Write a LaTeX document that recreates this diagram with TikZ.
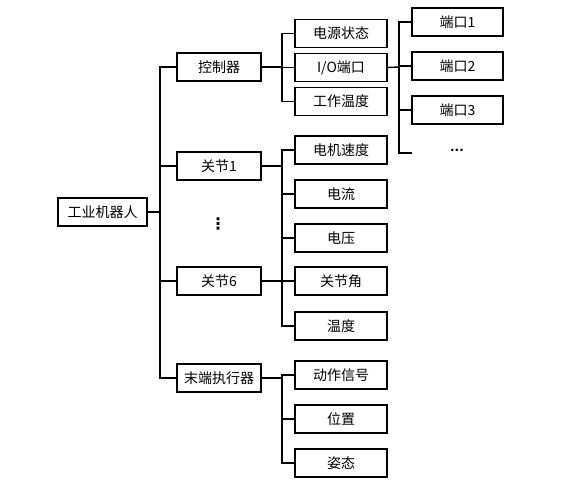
\documentclass[tikz,border=0pt]{standalone}
\usepackage{fontspec}
\setmainfont{Noto Sans CJK SC}
\newfontfamily\symfont{DejaVu Sans}
\usepackage{tikz}

\begin{document}
\begin{tikzpicture}[x=1pt, y=-1pt,
	box/.style={draw, line width=1.3pt, minimum height=28pt, inner sep=0pt, font=\fontsize{14}{16}\selectfont},
	lvlone/.style={box, minimum width=84pt},
	lvltwo/.style={box, minimum width=92pt},
	port/.style={box, minimum width=91pt},
	wire/.style={line width=1.4pt}]
				\useasboundingbox (0,0) rectangle (572,494);
				% root and first level
				\node[box, minimum width=89pt] (robot) at (102.5,212) {工业机器人};
				\node[lvlone] (ctrl) at (219,67) {控制器};
				\node[lvlone] (jone) at (219,166) {关节1};
				\node[lvlone] (jsix) at (219,281) {关节6};
				\node[lvlone] (eff) at (219,378) {末端执行器};
				\node[font=\symfont\bfseries\fontsize{16}{18}\selectfont] (vdots) at (218,224) {⋮};
				% second level
				\node[lvltwo] (power) at (341,33.5) {电源状态};
				\node[lvltwo] (io) at (341,67.5) {I/O端口};
				\node[lvltwo] (ctemp) at (341,101.5) {工作温度};
				\node[lvltwo] (speed) at (341,150) {电机速度};
				\node[lvltwo] (current) at (341,194) {电流};
				\node[lvltwo] (volt) at (341,238) {电压};
				\node[lvltwo] (angle) at (341,281) {关节角};
				\node[lvltwo] (jtemp) at (341,326) {温度};
				\node[lvltwo] (signal) at (341,375) {动作信号};
				\node[lvltwo] (pos) at (341,419) {位置};
				\node[lvltwo] (pose) at (341,463) {姿态};
				% ports
				\node[port] (pa) at (457.5,22) {端口1};
				\node[port] (pb) at (457.5,66) {端口2};
				\node[port] (pc) at (457.5,110) {端口3};
				\node[font=\symfont\bfseries\fontsize{12}{14}\selectfont] (more) at (457,150) {...};
				% junctions
				\coordinate (t0) at (160,212);
				\coordinate (b1) at (282,67);
				\coordinate (b2) at (282,166);
				\coordinate (b3) at (282,281);
				\coordinate (b4) at (282,378);
				\coordinate (b5) at (399,67);
				\coordinate (pend) at (412,153);
				% connectors
				\draw[wire] (robot.east) -- (t0);
				\foreach \n in {ctrl, jone, jsix, eff} \draw[wire] (\n.west) -| (t0);
				\draw[wire] (ctrl.east) -- (b1);
				\foreach \n in {power, io, ctemp} \draw[wire] (\n.west) -| (b1);
				\draw[wire] (jone.east) -- (b2);
				\draw[wire] (jsix.east) -- (b3);
				\draw[wire] (b2) -- (b3);
				\foreach \n in {speed, current} \draw[wire] (\n.west) -| (b2);
				\foreach \n in {volt, angle, jtemp} \draw[wire] (\n.west) -| (b3);
				\draw[wire] (eff.east) -- (b4);
				\foreach \n in {signal, pos, pose} \draw[wire] (\n.west) -| (b4);
				\draw[wire] (io.east) -- (b5);
				\foreach \n in {pa, pb, pc} \draw[wire] (\n.west) -| (b5);
				\draw[wire] (pend) -| (b5);
			\end{tikzpicture}
\end{document}
